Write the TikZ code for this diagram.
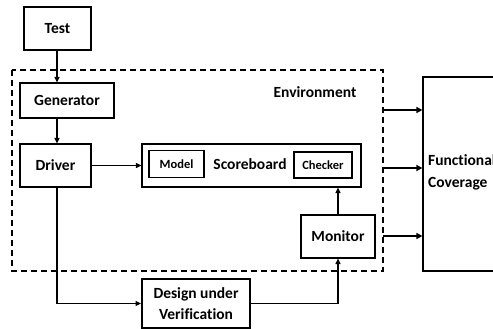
\documentclass[tikz,border=0pt]{standalone}
\usepackage{fontspec}
\setmainfont{Carlito}[Ligatures={NoCommon}]
\usetikzlibrary{arrows.meta}
\begin{document}
\begin{tikzpicture}[x=1pt,y=-1pt,
  box/.style={draw,line width=1.2pt,inner sep=0pt,font=\fontsize{15.5}{18}\selectfont\bfseries},
  small/.style={draw,line width=1.2pt,inner sep=0pt,font=\fontsize{12.5}{14}\selectfont\bfseries},
  arr/.style={line width=1.2pt,-{Triangle[length=5.5pt,width=5pt]}},
  thickarr/.style={line width=2pt,-{Triangle[length=6pt,width=6pt]}},
  lbl/.style={inner sep=0pt,font=\fontsize{15.5}{18}\selectfont\bfseries}]
\clip (0,0) rectangle (493,329);
\fill[white] (0,0) rectangle (493,329);
% environment
\draw[line width=1.2pt,dash pattern=on 6pt off 4pt] (12,70) rectangle (383,271);
\coordinate (envR1) at (383,110);
\coordinate (envR2) at (383,168);
\coordinate (envR3) at (383,236);
\node[lbl] (env) at (315,92) {Environment};
% nodes
\node[box,minimum width=67pt,minimum height=43pt] (test) at (57.5,28.5) {Test};
\node[box,minimum width=94pt,minimum height=35pt] (gen) at (67,100.5) {Generator};
\node[box,minimum width=71pt,minimum height=43pt] (drv) at (55.5,165.5) {Driver};
\node[draw,line width=1.2pt,minimum width=219pt,minimum height=43pt] (sb) at (251.5,165.5) {};
\node[lbl] (sbt) at (250,164) {Scoreboard};
\node[small,minimum width=55pt,minimum height=27pt] (model) at (176.5,164) {Model};
\node[small,minimum width=58pt,minimum height=26pt] (chk) at (323,165) {Checker};
\node[box,minimum width=74pt,minimum height=43pt] (mon) at (338,236.5) {Monitor};
\node[draw,line width=2pt,inner sep=0pt,minimum width=108pt,minimum height=49pt,align=center,
      font=\fontsize{15.5}{21}\selectfont\bfseries] (duv) at (196,303.5) {Design under\\Verification};
\node[draw,line width=1.2pt,minimum width=100pt,minimum height=194pt] (fc) at (473,174) {};
\node[lbl,anchor=west,align=left,font=\fontsize{15.5}{22}\selectfont\bfseries] (fct) at (428,172) {Functional\\Coverage};
% connectors
\coordinate (ax) at (57,0);
\draw[arr] (ax |- test.south) -- (ax |- gen.north);
\draw[arr] (ax |- gen.south) -- (ax |- drv.north);
\draw[arr] (drv.east) -- (sb.west);
\draw[arr] (ax |- drv.south) |- (duv.west);
\draw[arr] (duv.east) -| (mon.south);
\draw[arr] (mon.north) -- (mon.north |- sb.south);
\draw[thickarr] (envR1) -- (envR1 -| fc.west);
\draw[thickarr] (envR2) -- (envR2 -| fc.west);
\draw[thickarr] (envR3) -- (envR3 -| fc.west);
\end{tikzpicture}
\end{document}
